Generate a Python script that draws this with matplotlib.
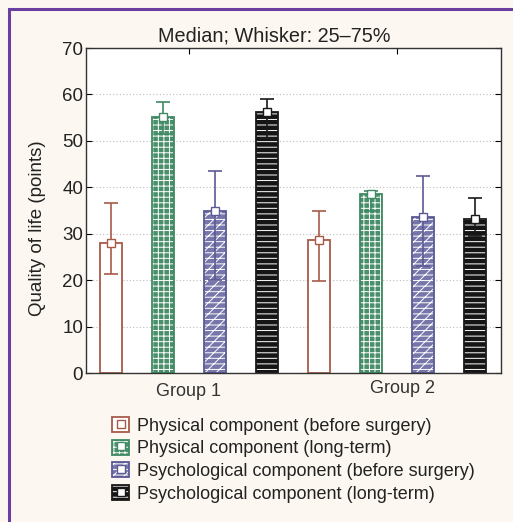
import matplotlib.pyplot as plt
import matplotlib.patches as mpatches
from matplotlib.lines import Line2D
import numpy as np

plt.rcParams['font.family'] = ['Liberation Sans', 'DejaVu Sans']
plt.rcParams['hatch.linewidth'] = 0.7

# data
groups = ["Group 1", "Group 2"]
series = ["Physical component (before surgery)",
          "Physical component (long-term)",
          "Psychological component (before surgery)",
          "Psychological component (long-term)"]
medians = [[28.0, 28.7],
           [55.2, 38.6],
           [34.9, 33.7],
           [56.2, 33.1]]
q25 = [[21.3, 19.8],
       [51.5, 35.0],
       [20.0, 23.0],
       [50.6, 29.6]]
q75 = [[36.6, 34.8],
       [58.4, 39.3],
       [43.5, 42.4],
       [59.0, 37.7]]

colors = ['#a85a48', '#3f8a63', '#5b5a94', '#1a1a1a']
faces = ['white', '#4a8f6b', '#7776aa', '#151515']
hatches = [None, '+++', '///---', '---']

fig = plt.figure(figsize=(5.13, 5.22), dpi=100)
fig.patch.set_facecolor('#fcf8f1')
ax = fig.add_axes([0.1676, 0.2854, 0.809, 0.6226])

n = len(series)
width = 0.42
for i in range(n):
    xs = np.arange(len(groups)) * n + i
    med = np.array(medians[i])
    lo = med - np.array(q25[i])
    hi = np.array(q75[i]) - med
    ax.bar(xs, med, width=width, facecolor=faces[i], edgecolor='none',
           linewidth=0, zorder=2)
    if hatches[i]:
        ax.bar(xs, med, width=width, facecolor='none', edgecolor='white',
               hatch=hatches[i], linewidth=0, zorder=2)
    ax.bar(xs, med, width=width, facecolor='none', edgecolor=colors[i],
           linewidth=1.3, zorder=2)
    ax.errorbar(xs, med, yerr=[lo, hi], fmt='s', color=colors[i], mfc='white',
                mec=colors[i], ms=6, elinewidth=1.2, capsize=5, capthick=1.2,
                zorder=3)

ax.set_xlim(-0.48, 7.5)
ax.set_ylim(0, 70)
ax.set_yticks(range(0, 71, 10))
ax.yaxis.grid(True, linestyle=(0, (1, 2)), color='#bbbbbb', linewidth=0.8, zorder=0)
ax.set_axisbelow(True)
ax.tick_params(axis='y', direction='in', right=True, labelsize=13.5, length=4,
               pad=2, labelcolor='#222222')
ax.set_xticks([1.5, 5.5])
ax.set_xticklabels([])
ax.tick_params(axis='x', direction='in', top=True, bottom=False, length=4)
for k, g in enumerate(groups):
    ax.text(1.5 + 4 * k + 0.1 * k, -4.0 + 0.6 * k, g, ha='center', va='center',
            fontsize=13, color='#333333', clip_on=False)
for s in ax.spines.values():
    s.set_color('#333333')
    s.set_linewidth(1.0)

ax.set_title("Median; Whisker: 25–75%", fontsize=14.3, color='#222222', pad=5,
             x=0.454)
ax.set_ylabel("Quality of life (points)", fontsize=13.5, color='#222222')
ax.yaxis.set_label_coords(-0.097, 0.446)

handles = []
for i in range(n):
    base = mpatches.Patch(facecolor=faces[i], edgecolor='none')
    hat = mpatches.Patch(facecolor='none', edgecolor='white' if hatches[i] else 'none',
                         hatch=hatches[i], linewidth=0)
    edge = mpatches.Patch(facecolor='none', edgecolor=colors[i], linewidth=1.3)
    mark = Line2D([], [], marker='s', linestyle='none', mfc='white',
                  mec=colors[i], ms=6)
    handles.append((base, hat, edge, mark))
fig.legend(handles, series, loc='upper left', bbox_to_anchor=(0.205, 0.215),
           frameon=False, fontsize=13, handlelength=0.9, handleheight=0.9,
           handletextpad=0.45, labelspacing=0.27, borderaxespad=0,
           labelcolor='#222222')

border = mpatches.Rectangle((9 / 513, -0.1), 1.2, 1 - 9 / 522 + 0.1,
                            transform=fig.transFigure, fill=False,
                            edgecolor='#6b3fa0', linewidth=2.2)
fig.patches.append(border)

fig.savefig("out.png", dpi=100, facecolor=fig.get_facecolor())
